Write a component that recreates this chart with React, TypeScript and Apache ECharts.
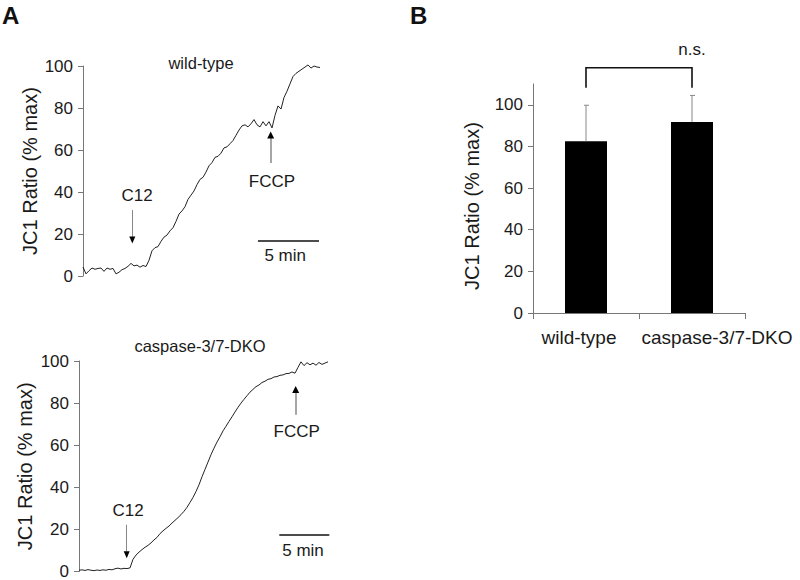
import React, { useEffect, useRef } from "react";
import * as echarts from "echarts";

// ---------- Panel A (top): wild-type JC1 trace, one sample every 0.25 min ----------
const wtStep = 0.25;
const wtValues = [
  4.3, 1.0, 2.5, 3.8, 3.2, 3.6, 3.8, 2.2, 3.8, 3.2,
  3.6, 1.0, 1.8, 3.0, 3.6, 4.6, 6.0, 4.8, 5.2, 4.2,
  5.0, 4.5, 7.5, 12.0, 13.5, 14.0, 16.5, 18.5, 19.5, 21.5,
  23.0, 26.0, 29.5, 31.0, 33.0, 36.5, 38.5, 40.5, 43.5, 46.0,
  47.0, 49.5, 52.5, 54.0, 56.5, 57.0, 58.5, 61.0, 61.5, 63.0,
  64.5, 67.0, 69.5, 71.5, 72.0, 71.0, 72.5, 74.5, 72.0, 71.0,
  73.5, 71.5, 73.5, 70.5, 76.5, 81.0, 79.5, 85.0, 88.0, 91.5,
  95.0, 96.5, 97.5, 98.5, 99.5, 100.5, 99.0, 100.0, 99.5, 99.3,
];

// ---------- Panel A (bottom): caspase-3/7-DKO trace, one sample every 0.3 min ----------
const dkoStep = 0.3;
const dkoValues = [
  0.6, 0.8, 0.5, 0.9, 0.6, 0.4, 0.7, 0.5, 0.8, 0.6,
  1.0, 0.8, 1.3, 1.6, 1.2, 1.5, 1.4, 1.7, 5.8, 7.8,
  9.2, 10.4, 11.5, 12.4, 13.6, 15.0, 16.2, 18.0, 19.3, 20.5,
  21.6, 23.0, 24.3, 25.6, 27.0, 28.6, 30.5, 32.8, 35.2, 38.0,
  41.2, 45.0, 48.5, 52.0, 55.5, 58.6, 61.5, 64.0, 66.8, 69.0,
  71.3, 73.5, 75.8, 78.0, 80.0, 81.8, 83.5, 85.2, 86.5, 87.8,
  88.6, 89.8, 90.4, 91.3, 91.6, 92.4, 92.6, 93.2, 93.4, 94.0,
  94.1, 94.8, 94.2, 97.0, 99.6, 97.8, 99.2, 98.2, 99.0, 98.0,
  99.3, 98.4, 99.0, 99.6,
];

// ---------- Panel B: bar chart ----------
const barCategories = ["wild-type", "caspase-3/7-DKO"];
const barMeans = [82.5, 91.8];
const barErrors = [17.3, 12.7];
const yTickValues = [0, 20, 40, 60, 80, 100];

// annotations in data coordinates [minutes, % max]
const wtC12 = { t: 4.11, lineFrom: 31.4, lineTo: 18.6, head: 17.2, labelT: 4.5, labelV: 38.1 };
const wtFCCP = { t: 15.64, lineFrom: 53.8, lineTo: 65.7, head: 67.1, labelT: 15.75, labelV: 45.2 };
const wtScale = { from: 14.58, to: 19.67, v: 16.8, labelT: 16.85, labelV: 10.0 };
const dkoC12 = { t: 4.77, lineFrom: 22.2, lineTo: 9.4, head: 8.0, labelT: 4.9, labelV: 28.8 };
const dkoFCCP = { t: 21.67, lineFrom: 74.5, lineTo: 85.0, head: 86.5, labelT: 21.77, labelV: 66.7 };
const dkoScale = { from: 20.03, to: 25.03, v: 17.5, labelT: 22.4, labelV: 9.9 };
const nsBracket = { left: 0, right: 1, low: 108.2, high: 117.8, textV: 126.4 };

const FONT = "'Liberation Sans', Arial, Helvetica, sans-serif";
const TXT = "#1a1a1a";
const AXIS = "#777";

function markers(c12: any, fccp: any, scale: any) {
  const textPt = (t: number, v: number, s: string) => ({
    coord: [t, v],
    symbol: "rect",
    symbolSize: 1,
    itemStyle: { color: "rgba(0,0,0,0)" },
    label: { show: true, position: "inside", formatter: s, fontSize: 17, color: TXT, fontFamily: FONT },
  });
  return {
    markLine: {
      silent: true,
      symbol: "none",
      label: { show: false },
      animation: false,
      data: [
        [
          { coord: [c12.t, c12.lineFrom], lineStyle: { color: "#888", width: 1, type: "solid" } },
          { coord: [c12.t, c12.lineTo] },
        ],
        [
          { coord: [fccp.t, fccp.lineFrom], lineStyle: { color: "#888", width: 1.5, type: "solid" } },
          { coord: [fccp.t, fccp.lineTo] },
        ],
        [
          { coord: [scale.from, scale.v], lineStyle: { color: "#111", width: 1.5, type: "solid" } },
          { coord: [scale.to, scale.v] },
        ],
      ],
    },
    markPoint: {
      silent: true,
      animation: false,
      data: [
        { coord: [c12.t, c12.head], symbol: "triangle", symbolSize: [6, 7], symbolRotate: 180, itemStyle: { color: "#000" }, label: { show: false } },
        { coord: [fccp.t, fccp.head], symbol: "triangle", symbolSize: [7, 7], itemStyle: { color: "#000" }, label: { show: false } },
        textPt(c12.labelT, c12.labelV, "C12"),
        textPt(fccp.labelT, fccp.labelV, "FCCP"),
        textPt(scale.labelT, scale.labelV, "5 min"),
      ],
    },
  };
}

function traceYAxis(gridIndex: number, nameGap: number) {
  return {
    type: "value",
    gridIndex,
    min: 0,
    max: 100,
    interval: 20,
    name: "JC1 Ratio (% max)",
    nameLocation: "middle",
    nameGap,
    nameTextStyle: { fontSize: 20, color: TXT, fontFamily: FONT },
    axisLine: { show: true, lineStyle: { color: AXIS, width: 1 } },
    axisTick: { show: true, length: 5, lineStyle: { color: AXIS } },
    axisLabel: { fontSize: 17, color: TXT, margin: 10, fontFamily: FONT },
    splitLine: { show: false },
  };
}

export default function App() {
  const ref = useRef<HTMLDivElement>(null);

  useEffect(() => {
    if (!ref.current) return;
    const chart = echarts.init(ref.current, undefined, { renderer: "svg" });

    const wtData = wtValues.map((v, i) => [i * wtStep, v]);
    const dkoData = dkoValues.map((v, i) => [i * dkoStep, v]);

    const option: any = {
      animation: false,
      backgroundColor: "#fff",
      textStyle: { fontFamily: FONT },
      title: [
        { text: "A", left: 2, top: 3, padding: 0, textStyle: { fontSize: 24, fontWeight: "bold", color: "#111", fontFamily: FONT } },
        { text: "B", left: 410, top: 3, padding: 0, textStyle: { fontSize: 24, fontWeight: "bold", color: "#111", fontFamily: FONT } },
        { text: "wild-type", left: 201, top: 54, padding: 0, textAlign: "center", textStyle: { fontSize: 16.5, fontWeight: "normal", color: TXT, fontFamily: FONT } },
        { text: "caspase-3/7-DKO", left: 200, top: 337, padding: 0, textAlign: "center", textStyle: { fontSize: 16.5, fontWeight: "normal", color: TXT, fontFamily: FONT } },
      ],
      grid: [
        { left: 83, top: 66, width: 237, height: 210, containLabel: false },
        { left: 79, top: 361, width: 251, height: 212, containLabel: false },
        { left: 533, top: 84, width: 212, height: 229, containLabel: false },
      ],
      xAxis: [
        { type: "value", gridIndex: 0, min: 0, max: 19.75, show: false },
        { type: "value", gridIndex: 1, min: 0, max: 25.1, show: false },
        {
          type: "category",
          gridIndex: 2,
          data: barCategories,
          boundaryGap: true,
          axisLine: { show: true, lineStyle: { color: AXIS, width: 1 } },
          axisTick: { show: true, length: 6, alignWithLabel: false, lineStyle: { color: AXIS } },
          axisLabel: {
            margin: 15,
            interval: 0,
            formatter: (v: string, i: number) => (i === 0 ? `{a|${v}}` : `{b|${v}}`),
            rich: {
              a: { fontSize: 19, color: TXT, fontFamily: FONT, padding: [0, 14, 0, 0] },
              b: { fontSize: 19, color: TXT, fontFamily: FONT, padding: [0, 0, 0, 50] },
            },
          },
          splitLine: { show: false },
        },
      ],
      yAxis: [
        traceYAxis(0, 43),
        traceYAxis(1, 44),
        {
          type: "value",
          gridIndex: 2,
          min: 0,
          max: 110,
          interval: 20,
          name: "JC1 Ratio (% max)",
          nameLocation: "middle",
          nameGap: 51,
          nameTextStyle: { fontSize: 20, color: TXT, fontFamily: FONT, padding: [0, 15, 0, 0] },
          axisLine: { show: true, lineStyle: { color: AXIS, width: 1 } },
          axisTick: { show: true, length: 5, lineStyle: { color: AXIS }, customValues: yTickValues },
          axisLabel: { fontSize: 17, color: TXT, margin: 10, fontFamily: FONT, customValues: yTickValues },
          splitLine: { show: false },
        },
      ],
      series: [
        {
          type: "line",
          xAxisIndex: 0,
          yAxisIndex: 0,
          data: wtData,
          showSymbol: false,
          symbol: "none",
          clip: false,
          lineStyle: { color: "#222", width: 1 },
          ...markers(wtC12, wtFCCP, wtScale),
        },
        {
          type: "line",
          xAxisIndex: 1,
          yAxisIndex: 1,
          data: dkoData,
          showSymbol: false,
          symbol: "none",
          clip: false,
          lineStyle: { color: "#222", width: 1 },
          ...markers(dkoC12, dkoFCCP, dkoScale),
        },
        {
          type: "bar",
          xAxisIndex: 2,
          yAxisIndex: 2,
          data: barMeans,
          barWidth: 42,
          itemStyle: { color: "#000" },
        },
        {
          type: "custom",
          xAxisIndex: 2,
          yAxisIndex: 2,
          z: 3,
          data: barMeans.map((m, i) => [i, m, m + barErrors[i]]),
          renderItem: (_p: any, api: any) => {
            const p0 = api.coord([api.value(0), api.value(1)]);
            const p1 = api.coord([api.value(0), api.value(2)]);
            return {
              type: "group",
              children: [
                { type: "line", shape: { x1: p0[0], y1: p0[1], x2: p1[0], y2: p1[1] }, style: { stroke: "#888", lineWidth: 1 } },
                { type: "line", shape: { x1: p1[0] - 2, y1: p1[1], x2: p1[0] + 3, y2: p1[1] }, style: { stroke: "#888", lineWidth: 1 } },
              ],
            };
          },
        },
        {
          type: "custom",
          xAxisIndex: 2,
          yAxisIndex: 2,
          z: 3,
          clip: false,
          data: [[nsBracket.left, nsBracket.right, nsBracket.low, nsBracket.high, nsBracket.textV]],
          renderItem: (_p: any, api: any) => {
            const a = api.coord([api.value(0), api.value(2)]);
            const aTop = api.coord([api.value(0), api.value(3)]);
            const b = api.coord([api.value(1), api.value(2)]);
            const bTop = api.coord([api.value(1), api.value(3)]);
            const t = api.coord([(api.value(0) + api.value(1)) / 2, api.value(4)]);
            return {
              type: "group",
              children: [
                {
                  type: "polyline",
                  shape: { points: [[a[0], a[1]], [aTop[0], aTop[1]], [bTop[0], bTop[1]], [b[0], b[1]]] },
                  style: { stroke: "#111", lineWidth: 1.6, fill: "none" },
                },
                {
                  type: "text",
                  x: t[0],
                  y: t[1],
                  style: { text: "n.s.", fontSize: 17, fill: TXT, fontFamily: FONT, align: "center", verticalAlign: "middle" },
                },
              ],
            };
          },
        },
      ],
    };

    chart.setOption(option);
    return () => chart.dispose();
  }, []);

  return (
    <div
      ref={ref}
      style={{ position: "fixed", left: 0, top: 0, width: 800, height: 580, background: "#fff" }}
    />
  );
}
